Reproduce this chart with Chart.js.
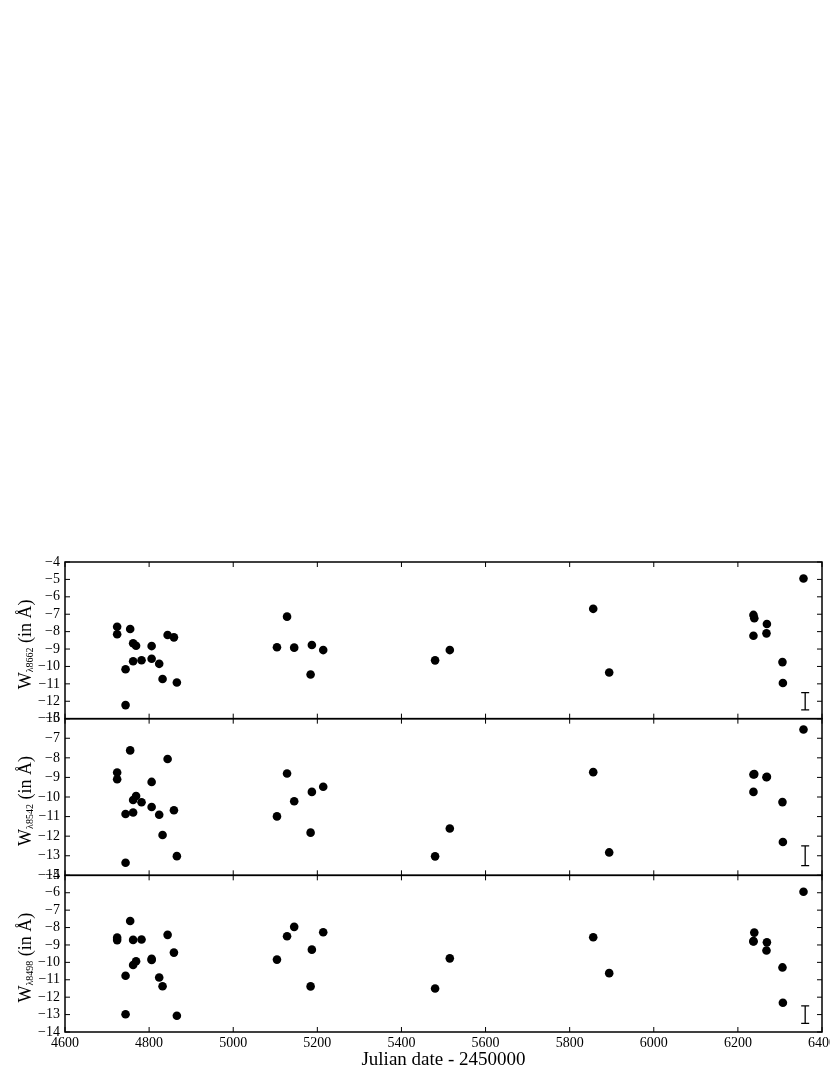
<!DOCTYPE html>
<html>
<head>
<meta charset="utf-8">
<script src="https://cdn.jsdelivr.net/npm/chart.js@4.4.0/dist/chart.umd.min.js"></script>
<style>
  html, body { margin: 0; padding: 0; background: #fff; }
  canvas { display: block; }
</style>
</head>
<body>
<canvas id="chart" width="830" height="1075"></canvas>
<script>
// Julian date - 2450000, shared by the three panels
const dates = [4724, 4724, 4744, 4744, 4755, 4762, 4762, 4769, 4782, 4806, 4806, 4824, 4832, 4844, 4859, 4866,
  5104, 5128, 5145, 5184, 5187, 5214, 5480, 5515, 5856, 5894,
  6237, 6237, 6239, 6268, 6269, 6306, 6307, 6356];

// equivalent widths (in Angstrom)
const w8662 = [-7.72, -8.15, -10.16, -12.22, -7.85, -8.67, -9.70, -8.81, -9.64, -8.83, -9.56, -9.85, -10.72, -8.19, -8.33, -10.92,
  -8.90, -7.14, -8.92, -10.46, -8.77, -9.06, -9.65, -9.06, -6.69, -10.35,
  -7.04, -8.24, -7.23, -8.10, -7.56, -9.75, -10.95, -4.95];
const w8542 = [-8.75, -9.09, -10.87, -13.36, -7.62, -10.15, -10.79, -9.95, -10.27, -9.23, -10.51, -10.91, -11.94, -8.06, -10.68, -13.02,
  -10.99, -8.80, -10.22, -11.82, -9.74, -9.48, -13.03, -11.61, -8.73, -12.83,
  -8.85, -9.74, -8.83, -8.99, -8.97, -10.26, -12.30, -6.55];
const w8498 = [-8.58, -8.72, -10.77, -12.98, -7.62, -8.71, -10.15, -9.94, -8.69, -9.80, -9.86, -10.87, -11.37, -8.42, -9.44, -13.07,
  -9.84, -8.50, -7.96, -11.38, -9.27, -8.27, -11.50, -9.77, -8.56, -10.62,
  -8.80, -8.78, -8.29, -9.32, -8.85, -10.29, -12.32, -5.94];

const lines = ['8662', '8542', '8498'];
const yMin = [-13, -14, -14];
const yMax = [-4, -6, -5];
const xMin = 4600, xMax = 6400, xStep = 200;

// typical error bar drawn in the corner of each panel
const errDate = 6360;
const errCenter = [-12, -13, -13];
const errHalf = 0.5;

const serif = "'Liberation Serif', 'Times New Roman', serif";
const panelIds = ['y1', 'y2', 'y3'];
const series = [w8662, w8542, w8498];

const minus = v => (v < 0 ? '\u2212' + Math.abs(v) : String(v));

const datasets = series.map((vals, i) => ({
  label: 'W' + lines[i],
  data: dates.map((d, k) => ({ x: d, y: vals[k] })),
  yAxisID: panelIds[i],
  backgroundColor: '#000',
  borderColor: '#000',
  borderWidth: 0,
  pointRadius: 4.3,
  pointHoverRadius: 4.3
}));

const yScale = i => ({
  type: 'linear',
  position: 'left',
  stack: 'panels',
  stackWeight: 1,
  min: yMin[i],
  max: yMax[i],
  grid: { display: false, drawTicks: false },
  border: { display: false },
  ticks: {
    stepSize: 1,
    autoSkip: false,
    padding: 5,
    color: '#000',
    font: { family: serif, size: 14 },
    callback: minus
  },
  afterFit: s => { s.width = 65; }
});

const framePlugin = {
  id: 'frame',
  afterDraw(chart) {
    const ctx = chart.ctx;
    const xs = chart.scales.x;
    const tickLen = 5;
    panelIds.forEach((id, i) => {
      const ys = chart.scales[id];
      const top = ys.top, bottom = ys.bottom, left = xs.left, right = xs.right;
      ctx.save();
      ctx.strokeStyle = '#000';
      ctx.lineWidth = 1;
      ctx.beginPath();
      xs.ticks.forEach(t => {
        const px = xs.getPixelForValue(t.value);
        ctx.moveTo(px, top); ctx.lineTo(px, top + tickLen);
        ctx.moveTo(px, bottom); ctx.lineTo(px, bottom - tickLen);
      });
      ys.ticks.forEach(t => {
        const py = ys.getPixelForValue(t.value);
        ctx.moveTo(left, py); ctx.lineTo(left + tickLen, py);
        ctx.moveTo(right, py); ctx.lineTo(right - tickLen, py);
      });
      ctx.stroke();

      // error bar
      const ex = xs.getPixelForValue(errDate);
      const e1 = ys.getPixelForValue(errCenter[i] + errHalf);
      const e2 = ys.getPixelForValue(errCenter[i] - errHalf);
      ctx.lineWidth = 1.3;
      ctx.beginPath();
      ctx.moveTo(ex, e1); ctx.lineTo(ex, e2);
      ctx.moveTo(ex - 4, e1); ctx.lineTo(ex + 4, e1);
      ctx.moveTo(ex - 4, e2); ctx.lineTo(ex + 4, e2);
      ctx.stroke();

      // frame
      ctx.lineWidth = 1.5;
      ctx.strokeRect(left, top, right - left, bottom - top);

      // y title with subscript
      const big = '18px ' + serif, small = '10px ' + serif;
      ctx.fillStyle = '#000';
      ctx.textBaseline = 'alphabetic';
      ctx.textAlign = 'left';
      ctx.font = big;
      const wW = ctx.measureText('W').width;
      const wRest = ctx.measureText(' (in \u00C5)').width;
      ctx.font = small;
      const wSub = ctx.measureText('\u03BB' + lines[i]).width;
      const total = wW + wSub + wRest;
      const cy = (top + bottom) / 2 + 4;
      ctx.translate(31, cy);
      ctx.rotate(-Math.PI / 2);
      let pos = -total / 2;
      ctx.font = big;
      ctx.fillText('W', pos, 0);
      pos += wW;
      ctx.font = small;
      ctx.fillText('\u03BB' + lines[i], pos, 2);
      pos += wSub;
      ctx.font = big;
      ctx.fillText(' (in \u00C5)', pos, 0);
      ctx.restore();
    });
  }
};

new Chart(document.getElementById('chart'), {
  type: 'scatter',
  data: { datasets },
  options: {
    responsive: false,
    animation: false,
    events: [],
    layout: { padding: { top: 562, right: 8, bottom: 0, left: 0 } },
    plugins: { legend: { display: false }, tooltip: { enabled: false } },
    scales: {
      x: {
        type: 'linear',
        position: 'bottom',
        min: xMin,
        max: xMax,
        grid: { display: false, drawTicks: false },
        border: { display: false },
        ticks: {
          stepSize: xStep,
          autoSkip: false,
          maxRotation: 0,
          padding: 3,
          color: '#000',
          font: { family: serif, size: 14 },
          callback: v => String(v)
        },
        title: {
          display: true,
          text: 'Julian date - 2450000',
          color: '#000',
          font: { family: serif, size: 19 },
          padding: { top: 0, bottom: 4 }
        },
        afterFit: s => { s.height = 43; s.paddingLeft = 0; s.paddingRight = 0; }
      },
      // stacked panels: the last one listed is placed on top
      y3: yScale(2),
      y2: yScale(1),
      y1: yScale(0)
    }
  },
  plugins: [framePlugin]
});
</script>
</body>
</html>
